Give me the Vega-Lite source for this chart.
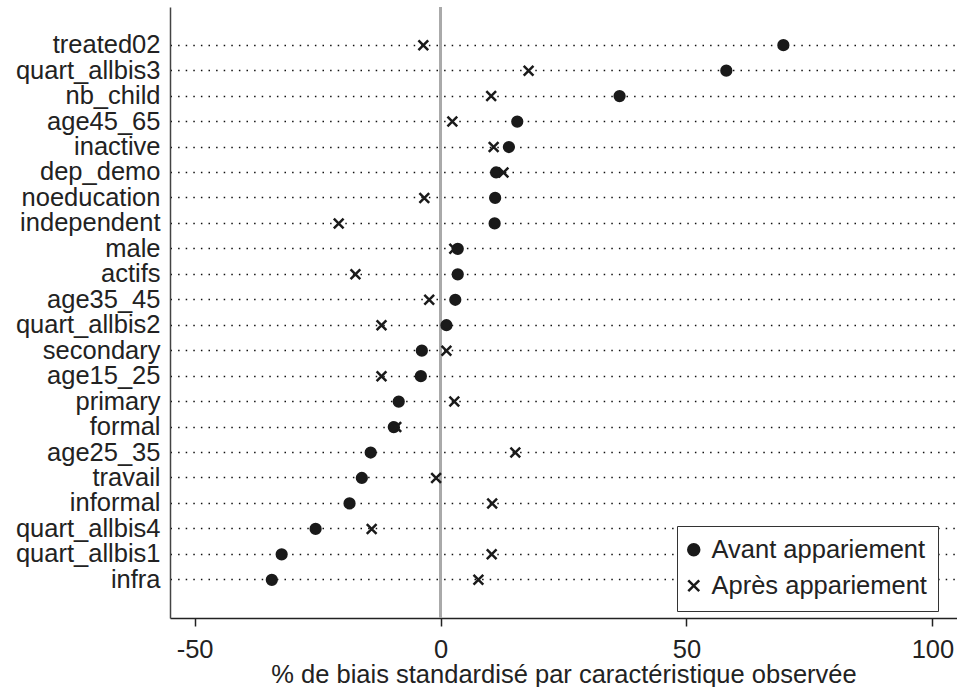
{
  "$schema": "https://vega.github.io/schema/vega-lite/v6.json",
  "width": 787,
  "height": 611,
  "autosize": {"type": "none"},
  "padding": {"left": 170, "top": 7, "right": 0, "bottom": 69},
  "background": "white",
  "config": {
    "font": "Liberation Sans",
    "view": {"stroke": null}
  },
  "data": {
    "values": [
      {"var": "treated02", "type": "Avant appariement", "bias": 69.7},
      {"var": "quart_allbis3", "type": "Avant appariement", "bias": 58.1},
      {"var": "nb_child", "type": "Avant appariement", "bias": 36.4},
      {"var": "age45_65", "type": "Avant appariement", "bias": 15.6},
      {"var": "inactive", "type": "Avant appariement", "bias": 13.9},
      {"var": "dep_demo", "type": "Avant appariement", "bias": 11.3},
      {"var": "noeducation", "type": "Avant appariement", "bias": 11.1},
      {"var": "independent", "type": "Avant appariement", "bias": 11.0},
      {"var": "male", "type": "Avant appariement", "bias": 3.5},
      {"var": "actifs", "type": "Avant appariement", "bias": 3.5},
      {"var": "age35_45", "type": "Avant appariement", "bias": 3.0},
      {"var": "quart_allbis2", "type": "Avant appariement", "bias": 1.2},
      {"var": "secondary", "type": "Avant appariement", "bias": -3.8},
      {"var": "age15_25", "type": "Avant appariement", "bias": -4.0},
      {"var": "primary", "type": "Avant appariement", "bias": -8.5},
      {"var": "formal", "type": "Avant appariement", "bias": -9.5},
      {"var": "age25_35", "type": "Avant appariement", "bias": -14.2},
      {"var": "travail", "type": "Avant appariement", "bias": -16.0},
      {"var": "informal", "type": "Avant appariement", "bias": -18.5},
      {"var": "quart_allbis4", "type": "Avant appariement", "bias": -25.4},
      {"var": "quart_allbis1", "type": "Avant appariement", "bias": -32.3},
      {"var": "infra", "type": "Avant appariement", "bias": -34.3},
      {"var": "treated02", "type": "Après appariement", "bias": -3.5},
      {"var": "quart_allbis3", "type": "Après appariement", "bias": 17.9},
      {"var": "nb_child", "type": "Après appariement", "bias": 10.3},
      {"var": "age45_65", "type": "Après appariement", "bias": 2.4},
      {"var": "inactive", "type": "Après appariement", "bias": 10.8},
      {"var": "dep_demo", "type": "Après appariement", "bias": 12.8},
      {"var": "noeducation", "type": "Après appariement", "bias": -3.3},
      {"var": "independent", "type": "Après appariement", "bias": -20.7},
      {"var": "male", "type": "Après appariement", "bias": 2.8},
      {"var": "actifs", "type": "Après appariement", "bias": -17.3},
      {"var": "age35_45", "type": "Après appariement", "bias": -2.3},
      {"var": "quart_allbis2", "type": "Après appariement", "bias": -12.0},
      {"var": "secondary", "type": "Après appariement", "bias": 1.2},
      {"var": "age15_25", "type": "Après appariement", "bias": -12.0},
      {"var": "primary", "type": "Après appariement", "bias": 2.8},
      {"var": "formal", "type": "Après appariement", "bias": -9.0},
      {"var": "age25_35", "type": "Après appariement", "bias": 15.2},
      {"var": "travail", "type": "Après appariement", "bias": -0.9},
      {"var": "informal", "type": "Après appariement", "bias": 10.5},
      {"var": "quart_allbis4", "type": "Après appariement", "bias": -14.0},
      {"var": "quart_allbis1", "type": "Après appariement", "bias": 10.4},
      {"var": "infra", "type": "Après appariement", "bias": 7.7}
    ]
  },
  "layer": [
    {
      "mark": {"type": "rule", "color": "#aaaaaa", "strokeWidth": 2.5},
      "encoding": {"x": {"datum": 0, "type": "quantitative"}}
    },
    {
      "mark": {"type": "point", "strokeWidth": 2.5, "opacity": 1, "size": 95},
      "encoding": {
        "y": {
          "field": "var",
          "type": "nominal",
          "sort": null,
          "scale": {"type": "band", "paddingInner": 0, "paddingOuter": 1},
          "axis": {
            "title": null,
            "ticks": false,
            "bandPosition": 0.5,
            "labelPadding": 10,
            "labelFontSize": 25.5,
            "labelColor": "#222222",
            "domainColor": "#444444",
            "domainWidth": 1.5,
            "grid": true,
            "gridColor": "#111111",
            "gridDash": [1.5, 6.1],
            "gridWidth": 1.5
          }
        },
        "x": {
          "field": "bias",
          "type": "quantitative",
          "scale": {"domain": [-55, 105], "nice": false, "zero": false},
          "axis": {
            "title": "% de biais standardisé par caractéristique observée",
            "values": [-50, 0, 50, 100],
            "labelExpr": "'' + datum.value",
            "grid": false,
            "tickSize": 8,
            "tickColor": "#222222",
            "tickWidth": 1.5,
            "domainColor": "#222222",
            "domainWidth": 1.5,
            "labelFontSize": 25.5,
            "labelColor": "#222222",
            "labelPadding": 11,
            "titleFontSize": 25.5,
            "titleFontWeight": "normal",
            "titleColor": "#222222",
            "titlePadding": 0
          }
        },
        "shape": {
          "field": "type",
          "type": "nominal",
          "scale": {
            "domain": ["Avant appariement", "Après appariement"],
            "range": ["circle", "M-1,-1L1,1M-1,1L1,-1"]
          },
          "legend": {
            "title": null,
            "orient": "none",
            "legendX": 507,
            "legendY": 519,
            "direction": "vertical",
            "fillColor": "white",
            "strokeColor": "#333333",
            "padding": 11,
            "labelFontSize": 25.5,
            "labelColor": "#222222",
            "labelLimit": 400,
            "labelOffset": 5,
            "symbolOffset": -7,
            "rowPadding": 9,
            "symbolSize": 120,
            "symbolStrokeWidth": 2.5
          }
        },
        "fill": {
          "field": "type",
          "type": "nominal",
          "scale": {
            "domain": ["Avant appariement", "Après appariement"],
            "range": ["#1a1a1a", "transparent"]
          },
          "legend": {
            "title": null,
            "orient": "none",
            "legendX": 507,
            "legendY": 519
          }
        },
        "stroke": {
          "field": "type",
          "type": "nominal",
          "scale": {
            "domain": ["Avant appariement", "Après appariement"],
            "range": ["#1a1a1a", "#1a1a1a"]
          },
          "legend": {
            "title": null,
            "orient": "none",
            "legendX": 507,
            "legendY": 519
          }
        }
      }
    }
  ]
}
